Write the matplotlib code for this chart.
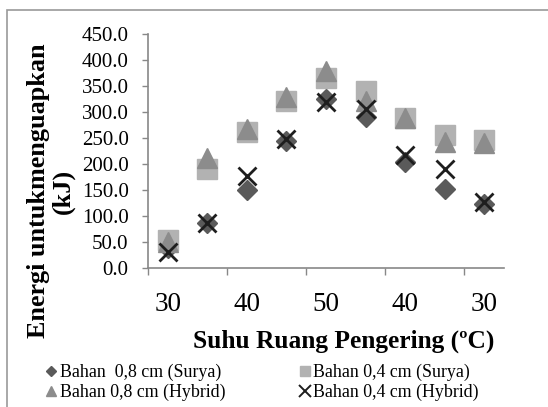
import matplotlib
matplotlib.use("Agg")
import matplotlib.pyplot as plt
from matplotlib.patches import Rectangle

categories = ["30", "35", "40", "45", "50", "45", "40", "35", "30"]
surya_08 = [38, 87, 150, 244, 325, 290, 204, 151, 124]
surya_04 = [53, 190, 262, 322, 366, 341, 289, 255, 246]
hybrid_08 = [50, 211, 268, 329, 378, 322, 289, 243, 240]
hybrid_04 = [31, 87, 177, 249, 319, 306, 217, 190, 126]
labels = ["Bahan  0,8 cm (Surya)", "Bahan 0,4 cm (Surya)",
          "Bahan 0,8 cm (Hybrid)", "Bahan 0,4 cm (Hybrid)"]
yticks = [0, 50, 100, 150, 200, 250, 300, 350, 400, 450]

plt.rcParams['font.family'] = ['Liberation Serif', 'DejaVu Serif']

W, H = 548, 407
fig = plt.figure(figsize=(W / 100, H / 100), dpi=100)
ax = fig.add_axes([148 / W, 1 - 268 / H, (504 - 148) / W, (268 - 34) / H])

x = list(range(len(categories)))
h1, = ax.plot(x, surya_08, linestyle='none', marker='D', ms=10.5, color='#5a5a5a', mec='#5a5a5a')
h2, = ax.plot(x, surya_04, linestyle='none', marker='s', ms=14, color='#b2b2b2', mec='#b2b2b2')
h3, = ax.plot(x, hybrid_08, linestyle='none', marker='^', ms=15, color='#8c8c8c', mec='#8c8c8c')
h4, = ax.plot(x, hybrid_04, linestyle='none', marker='x', ms=13, mew=2, color='#1e1e1e')

ax.set_xlim(-0.5, len(categories) - 0.5)
ax.set_ylim(0, 450)
ax.set_yticks(yticks)
ax.set_yticklabels([f"{v:.1f}" for v in yticks], fontsize=15)

# category labels: every other one shown
ax.set_xticks(x[::2])
ax.set_xticklabels(categories[::2], fontsize=19.5)
ax.tick_params(axis='x', which='major', length=0, pad=17)
ax.set_xticks([i - 0.5 for i in range(0, len(categories) + 1, 2)], minor=True)
ax.tick_params(axis='x', which='minor', length=5, color='#888888', width=1)
ax.tick_params(axis='y', length=4, color='#888888', width=1, pad=10)

for s in ['top', 'right']:
    ax.spines[s].set_visible(False)
for s in ['left', 'bottom']:
    ax.spines[s].set_color('#888888')
    ax.spines[s].set_linewidth(1.2)

fig.text(51 / W, 1 - 191 / H, "Energi untukmenguapkan\n(kJ)", rotation=90,
         ha='center', va='center', multialignment='center',
         fontsize=18.8, fontweight='bold', linespacing=1.05)
fig.text(344 / W, 1 - 341 / H, "Suhu Ruang Pengering (ºC)", ha='center', va='center',
         fontsize=18.3, fontweight='bold')

leg = fig.legend([h1, h3, h2, h4], [labels[0], labels[2], labels[1], labels[3]],
                 ncol=2, loc='upper left', bbox_to_anchor=(47 / W, 1 - 364 / H),
                 frameon=False, fontsize=12.9, markerscale=0.48,
                 handlelength=0.5, handletextpad=0.2, columnspacing=4.2,
                 labelspacing=0.15, borderpad=0, borderaxespad=0)
leg.legend_handles[3].set_markeredgewidth(1.4)
leg.legend_handles[3].set_markersize(8.5)

fig.patches.append(Rectangle((7 / W, -0.05), 1.0, (1 - 10 / H) + 0.05,
                             transform=fig.transFigure, fill=False,
                             edgecolor='#999999', linewidth=1.2))

fig.savefig("out.png", dpi=100)
